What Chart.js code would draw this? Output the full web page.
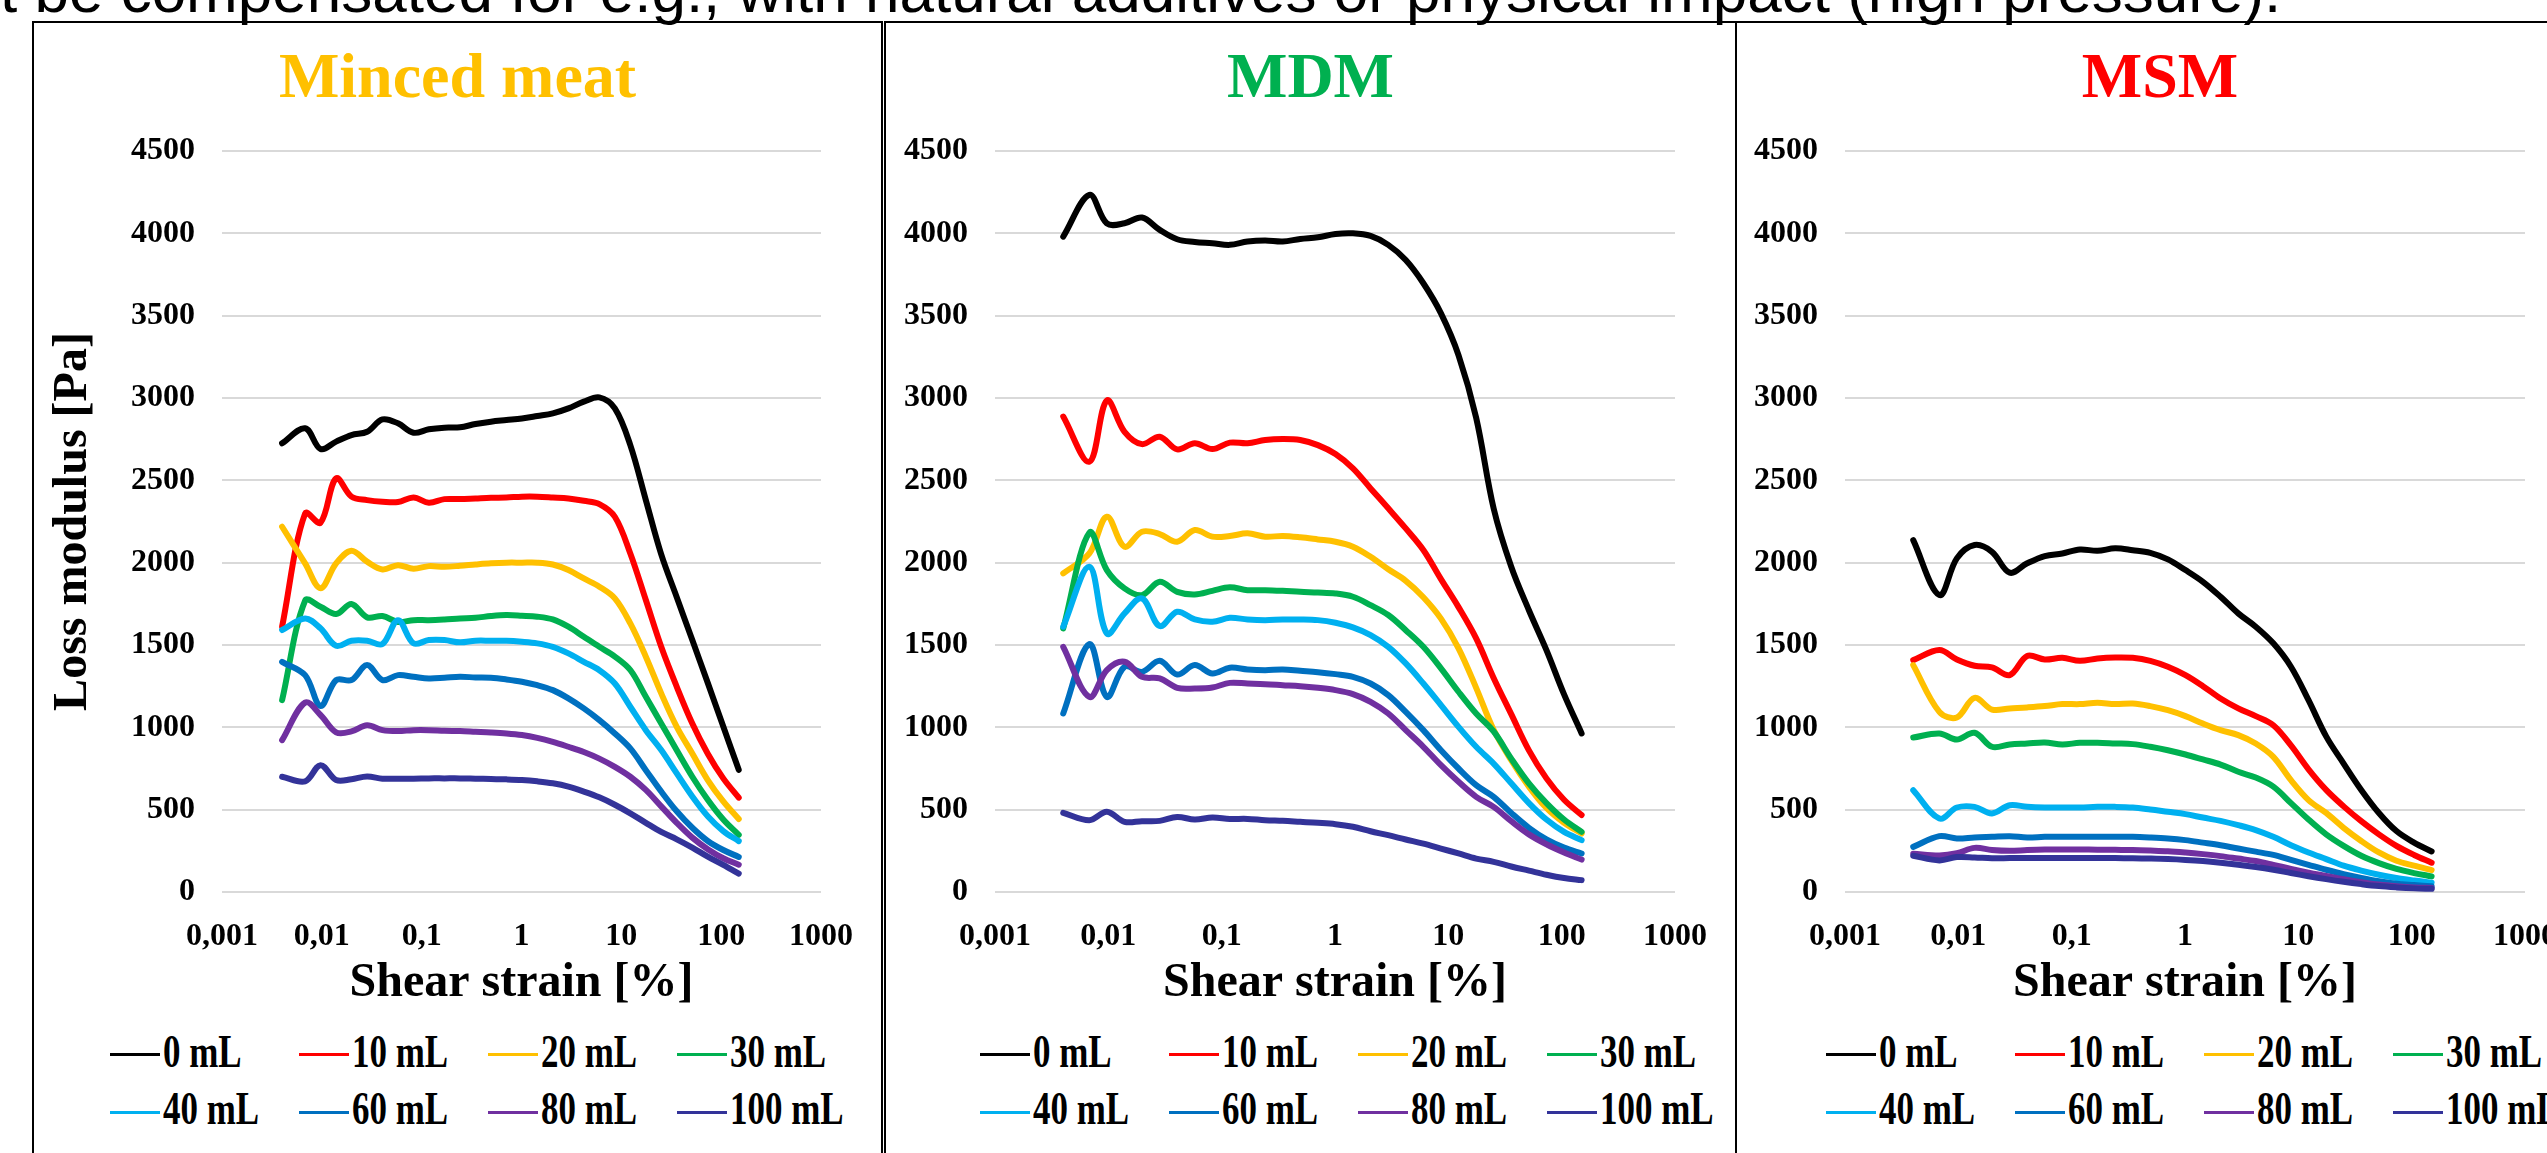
<!DOCTYPE html>
<html>
<head>
<meta charset="utf-8">
<script src="https://cdn.jsdelivr.net/npm/chart.js@4.4.1/dist/chart.umd.min.js"></script>
<style>
  html, body { margin: 0; padding: 0; background: #fff; }
  body { width: 2547px; height: 1153px; position: relative; overflow: hidden; }
  .topline { position: absolute; left: 0; top: -40px; font: 62px 'Liberation Sans', Arial, sans-serif; line-height: 62px; white-space: nowrap; color: #000; }
  .panel { position: absolute; top: 21px; height: 1200px; border: 2px solid #000; box-sizing: border-box; }
  canvas { position: absolute; top: 24px; }
  .legend { position: absolute; top: 1026px; display: grid; grid-template-columns: repeat(4, 189px); grid-auto-rows: 57.5px; }
  .item { display: flex; align-items: center; white-space: nowrap; }
  .swatch { width: 50px; height: 3px; flex: none; }
  .label { font: bold 46px 'Liberation Serif', 'Times New Roman', serif; line-height: 46px; margin-left: 3px;
           transform: scaleX(0.76); transform-origin: left center; position: relative; top: -3px; color: #000; }
</style>
</head>
<body>
<div class="topline">t be compensated for e.g., with natural additives or physical impact (high pressure).</div>
<div class="panel" style="left:32px; width:851px;"></div>
<div class="panel" style="left:884px; width:853px;"></div>
<div class="panel" style="left:1735px; width:900px;"></div>
<div class="legend" id="legend1" style="left:110px;"></div>
<div class="legend" id="legend2" style="left:980px;"></div>
<div class="legend" id="legend3" style="left:1826px;"></div>
<script>
// shear strain [%] of the measured points
const strain = [0.004, 0.0068, 0.0097, 0.0139, 0.0198, 0.0284, 0.0405, 0.0579, 0.0828, 0.118,
  0.169, 0.242, 0.346, 0.494, 0.706, 1.01, 1.44, 2.06, 2.95, 4.21,
  6.02, 8.61, 12.3, 17.6, 25.1, 35.9, 51.4, 73.4, 105, 150];

const tickValues = [0.001, 0.01, 0.1, 1, 10, 100, 1000];
const tickLabels = ['0,001', '0,01', '0,1', '1', '10', '100', '1000'];

const seriesNames = ['0 mL', '10 mL', '20 mL', '30 mL', '40 mL', '60 mL', '80 mL', '100 mL'];
const seriesColors = ['#000000', '#FF0000', '#FFC000', '#00B050', '#00B0F0', '#0070C0', '#7030A0', '#333399'];

// Minced meat, loss modulus [Pa]
const minced0 = [2725, 2816, 2690, 2735, 2775, 2795, 2870, 2846, 2789, 2810, 2820, 2822, 2842, 2856, 2866, 2876, 2891, 2907, 2937, 2978, 3004, 2937, 2714, 2380, 2050, 1790, 1530, 1270, 1005, 742];
const minced10 = [1611, 2299, 2243, 2512, 2401, 2380, 2370, 2368, 2396, 2364, 2386, 2386, 2390, 2394, 2396, 2401, 2401, 2396, 2390, 2376, 2356, 2279, 2056, 1773, 1489, 1246, 1023, 840, 690, 573];
const minced20 = [2218, 1996, 1845, 1996, 2073, 2006, 1959, 1985, 1963, 1979, 1975, 1981, 1989, 1996, 2000, 2000, 2000, 1989, 1955, 1904, 1854, 1783, 1631, 1429, 1206, 1003, 841, 680, 550, 443];
const minced30 = [1165, 1770, 1732, 1688, 1749, 1668, 1676, 1640, 1651, 1651, 1655, 1661, 1665, 1676, 1682, 1678, 1672, 1655, 1611, 1550, 1489, 1430, 1348, 1185, 1024, 861, 700, 560, 440, 347];
const minced40 = [1591, 1661, 1601, 1495, 1526, 1526, 1506, 1651, 1510, 1530, 1530, 1516, 1526, 1526, 1526, 1520, 1510, 1489, 1449, 1398, 1347, 1266, 1125, 983, 862, 720, 580, 460, 370, 309];
const minced60 = [1398, 1317, 1130, 1287, 1287, 1378, 1287, 1317, 1307, 1297, 1301, 1307, 1303, 1301, 1291, 1277, 1256, 1226, 1176, 1115, 1044, 963, 872, 740, 610, 490, 390, 310, 255, 213];
const minced80 = [922, 1150, 1075, 970, 975, 1013, 983, 977, 983, 983, 979, 977, 973, 969, 963, 953, 936, 912, 882, 850, 810, 760, 700, 620, 520, 420, 330, 260, 205, 166];
const minced100 = [700, 672, 770, 680, 685, 702, 688, 688, 688, 690, 690, 690, 688, 686, 684, 680, 672, 660, 640, 610, 575, 530, 478, 420, 365, 320, 270, 215, 165, 112];

// MDM
const mdm0 = [3980, 4233, 4060, 4061, 4096, 4021, 3964, 3948, 3940, 3930, 3950, 3956, 3950, 3966, 3976, 3996, 4000, 3984, 3930, 3838, 3697, 3514, 3260, 2880, 2330, 1975, 1711, 1469, 1200, 963];
const mdm10 = [2887, 2613, 2985, 2795, 2720, 2765, 2688, 2725, 2690, 2729, 2725, 2745, 2751, 2745, 2714, 2660, 2573, 2451, 2330, 2208, 2077, 1900, 1730, 1540, 1300, 1080, 860, 690, 560, 467];
const mdm20 = [1935, 2056, 2279, 2097, 2188, 2174, 2127, 2198, 2158, 2162, 2178, 2158, 2162, 2154, 2141, 2127, 2097, 2036, 1960, 1890, 1790, 1660, 1480, 1240, 985, 800, 640, 510, 420, 355];
const mdm30 = [1601, 2182, 1955, 1844, 1803, 1884, 1823, 1807, 1829, 1850, 1833, 1833, 1829, 1823, 1819, 1813, 1793, 1742, 1682, 1590, 1489, 1358, 1216, 1084, 975, 810, 660, 540, 440, 365];
const mdm40 = [1611, 1975, 1570, 1692, 1783, 1615, 1702, 1655, 1641, 1665, 1655, 1651, 1655, 1655, 1651, 1635, 1607, 1560, 1489, 1388, 1266, 1135, 1003, 882, 780, 660, 540, 440, 365, 315];
const mdm60 = [1084, 1505, 1185, 1368, 1337, 1404, 1321, 1378, 1327, 1362, 1351, 1347, 1351, 1343, 1335, 1323, 1307, 1266, 1196, 1094, 983, 861, 750, 649, 578, 480, 390, 320, 270, 234];
const mdm80 = [1489, 1185, 1347, 1398, 1307, 1297, 1240, 1236, 1242, 1270, 1266, 1262, 1256, 1250, 1240, 1226, 1202, 1155, 1084, 983, 882, 770, 669, 578, 517, 430, 350, 290, 240, 197];
const mdm100 = [481, 436, 487, 426, 430, 432, 456, 440, 452, 444, 444, 436, 432, 426, 420, 412, 396, 369, 345, 319, 294, 264, 234, 203, 183, 155, 130, 105, 85, 72];

// MSM
const msm0 = [2137, 1803, 2026, 2107, 2066, 1939, 1996, 2040, 2056, 2080, 2072, 2087, 2076, 2060, 2020, 1955, 1884, 1793, 1692, 1611, 1510, 1368, 1165, 945, 780, 620, 480, 370, 300, 246];
const msm10 = [1408, 1469, 1412, 1374, 1364, 1317, 1433, 1412, 1422, 1404, 1418, 1424, 1422, 1404, 1368, 1317, 1250, 1175, 1115, 1068, 1013, 890, 745, 620, 520, 430, 350, 280, 225, 178];
const msm20 = [1378, 1094, 1060, 1179, 1108, 1115, 1121, 1129, 1141, 1141, 1149, 1141, 1145, 1129, 1104, 1068, 1023, 983, 953, 902, 821, 679, 558, 480, 390, 310, 240, 190, 160, 133];
const msm30 = [938, 963, 926, 967, 882, 896, 902, 908, 896, 906, 906, 902, 898, 882, 861, 835, 805, 774, 730, 695, 640, 540, 440, 350, 280, 220, 175, 140, 115, 95];
const msm40 = [618, 446, 513, 517, 477, 527, 517, 513, 513, 513, 517, 517, 513, 501, 487, 473, 452, 432, 406, 376, 335, 284, 240, 200, 160, 130, 105, 85, 70, 57];
const msm60 = [274, 339, 325, 331, 335, 339, 331, 335, 335, 335, 335, 335, 335, 331, 325, 315, 300, 284, 264, 245, 225, 195, 165, 135, 108, 85, 65, 50, 42, 35];
const msm80 = [233, 222, 235, 268, 255, 250, 255, 258, 258, 258, 257, 256, 255, 252, 248, 240, 230, 218, 203, 188, 165, 140, 118, 98, 78, 60, 45, 35, 28, 24];
const msm100 = [220, 192, 212, 210, 205, 206, 207, 207, 207, 207, 207, 206, 205, 203, 200, 195, 188, 178, 166, 152, 135, 115, 96, 78, 62, 48, 36, 28, 22, 19];

const serif = "'Liberation Serif', 'Times New Roman', serif";

// legend drawn as html so the narrow lettering of the original can be copied
const htmlLegend = {
  id: 'htmlLegend',
  afterUpdate(chart, args, opts) {
    const box = document.getElementById(opts.containerID);
    box.innerHTML = '';
    chart.data.datasets.forEach(ds => {
      const item = document.createElement('div');
      item.className = 'item';
      const sw = document.createElement('span');
      sw.className = 'swatch';
      sw.style.background = ds.borderColor;
      const tx = document.createElement('span');
      tx.className = 'label';
      tx.textContent = ds.label;
      item.append(sw, tx);
      box.appendChild(item);
    });
  }
};

function makeChart(p) {
  const canvas = document.createElement('canvas');
  canvas.width = p.width;
  canvas.height = 988;
  canvas.style.left = p.left + 'px';
  document.body.appendChild(canvas);

  return new Chart(canvas, {
    type: 'line',
    data: {
      datasets: p.series.map((vals, i) => ({
        label: seriesNames[i],
        data: strain.map((x, j) => ({ x: x, y: vals[j] })),
        borderColor: seriesColors[i],
        backgroundColor: seriesColors[i],
        borderWidth: 6,
        pointRadius: 0,
        tension: 0.35,
        fill: false,
        borderCapStyle: 'round',
        borderJoinStyle: 'round',
        order: seriesNames.length - i
      }))
    },
    options: {
      responsive: false,
      animation: false,
      devicePixelRatio: 1,
      layout: { padding: 0 },
      plugins: {
        legend: { display: false },
        tooltip: { enabled: false },
        title: {
          display: true, text: p.title, color: p.color,
          font: { family: serif, size: 64, weight: 'bold' },
          padding: { top: 17.6, bottom: 32.6 }
        },
        htmlLegend: { containerID: p.legendId }
      },
      scales: {
        x: {
          type: 'logarithmic', min: 0.001, max: 1000,
          grid: { display: false },
          border: { display: false },
          afterBuildTicks: s => { s.ticks = tickValues.map(v => ({ value: v })); },
          afterFit: s => { s.height = 120; },
          ticks: {
            autoSkip: false, maxRotation: 0, padding: 18, color: '#000',
            font: { family: serif, size: 32, weight: 'bold' },
            callback: (v, i) => tickLabels[i]
          },
          title: {
            display: true, text: 'Shear strain [%]', color: '#000',
            font: { family: serif, size: 48, weight: 'bold' }, padding: 0
          }
        },
        y: {
          min: 0, max: 4500,
          grid: { color: '#D9D9D9', lineWidth: 2, drawTicks: false },
          border: { display: false },
          afterFit: s => { s.width = p.yWidth; },
          ticks: {
            stepSize: 500, padding: 27, color: '#000',
            font: { family: serif, size: 32, weight: 'bold' },
            callback: v => String(v)
          },
          title: {
            display: p.yTitle, text: 'Loss modulus [Pa]', color: '#000',
            font: { family: serif, size: 48, weight: 'bold' }, padding: { top: 10, bottom: 0 }
          }
        },
        // empty right-hand strip, keeps the plot clear of the panel edge
        yRight: {
          position: 'right', min: 0, max: 4500,
          grid: { display: false }, border: { display: false }, ticks: { display: false },
          afterFit: s => { s.width = p.padRight; }
        }
      }
    },
    plugins: [htmlLegend]
  });
}

makeChart({ title: 'Minced meat', color: '#FFC000', left: 35, width: 845, yWidth: 187, padRight: 59, yTitle: true, legendId: 'legend1',
  series: [minced0, minced10, minced20, minced30, minced40, minced60, minced80, minced100] });
makeChart({ title: 'MDM', color: '#00B050', left: 889, width: 843, yWidth: 106, padRight: 57, yTitle: false, legendId: 'legend2',
  series: [mdm0, mdm10, mdm20, mdm30, mdm40, mdm60, mdm80, mdm100] });
makeChart({ title: 'MSM', color: '#FF0000', left: 1739, width: 842, yWidth: 106, padRight: 56, yTitle: false, legendId: 'legend3',
  series: [msm0, msm10, msm20, msm30, msm40, msm60, msm80, msm100] });
</script>
</body>
</html>
